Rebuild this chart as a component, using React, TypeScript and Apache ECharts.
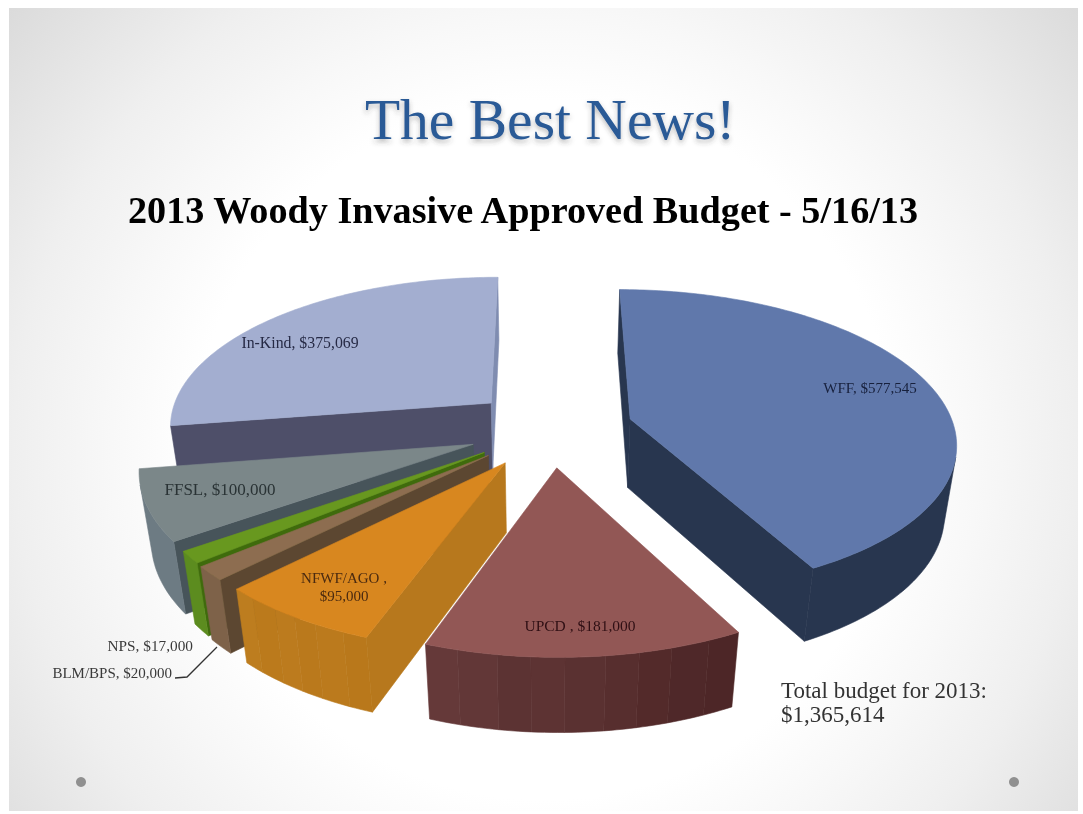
import React, { useEffect, useRef } from "react";
import * as echarts from "echarts";

const mainTitle = "The Best News!";
const chartTitle = "2013 Woody Invasive Approved Budget - 5/16/13";
const totalNote = "Total budget for 2013:\n$1,365,614";

const categories = ["WFF", "UPCD", "NFWF/AGO", "BLM/BPS", "NPS", "FFSL", "In-Kind"];
const values = [577545, 181000, 95000, 20000, 17000, 100000, 375069];
const sliceLabels = [
  "WFF, $577,545",
  "UPCD , $181,000",
  "NFWF/AGO ,\n$95,000",
  "BLM/BPS, $20,000",
  "NPS, $17,000",
  "FFSL, $100,000",
  "In-Kind, $375,069",
];

// styles and layout, by slice
const topColors = ["#6078ab", "#925755", "#d8871f", "#8d6d50", "#68981f", "#7b8789", "#a3aed0"];
const startWallColors = ["#28364f", "#5d3232", "#b7781d", "#5c4731", "#3f6b0c", "#47545a", "#4e4f69"];
const endWallColors = ["#28364f", "#5d3232", "#b7781d", "#5c4731", "#3f6b0c", "#47545a", "#7f8cb0"];
const outerBands = [
  ["#28364f"],
  ["#4d2627", "#4f2829", "#532a2a", "#572e2e", "#5a3131", "#5d3333", "#5c3333", "#623737", "#653939"],
  ["#b9781b", "#bb7a1d", "#ba791c", "#bc7b1e", "#bb7a1c", "#bd7d1f"],
  ["#7e6249"],
  ["#5c8c1f"],
  ["#6d7b83"],
  ["#4e4f69"],
];
const explodeX = [0.265, 0.035, -0.119, -0.17, -0.183, -0.218, -0.17];
const explodeZ = [0.08, -0.236, -0.205, -0.158, -0.139, -0.087, 0.19];
const labelX = [870, 580, 344, 172, 193, 220, 300];
const labelY = [388, 625, 587, 673, 645, 489, 342];
const labelSize = [15, 15.5, 15, 15, 15.3, 17, 15.8];
const labelColors = ["#17203c", "#2f0f14", "#4a2a10", "#3a3a3a", "#3a3a3a", "#2a3335", "#262a45"];
const labelAlign = ["center", "center", "center", "right", "right", "center", "center"];
const drawOrder = [6, 5, 4, 3, 2, 1, 0];

// projection of the pie's ground plane on the page
const CX = 545;
const CY = 431;
const RADIUS = 325;
const DEPTH = 151;
const PERSP = 0.142;
const THICK = 71;
const THICK_PERSP = 0.03;
const SERIF = '"Liberation Serif", serif';

const total = values.reduce((a, b) => a + b, 0);
const startAngles: number[] = [];
values.reduce((acc, v, i) => {
  startAngles[i] = (acc / total) * Math.PI * 2;
  return acc + v;
}, 0);

type P = [number, number];

function project(X: number, Z: number, H: number): P {
  const w = 1 + PERSP * Z + THICK_PERSP * H;
  return [CX + (RADIUS * X) / w, CY + (THICK * H - DEPTH * Z) / w];
}

function area2(pts: P[]): number {
  let s = 0;
  pts.forEach((p, i) => {
    const q = pts[(i + 1) % pts.length];
    s += p[0] * q[1] - q[0] * p[1];
  });
  return s;
}

function face(points: P[], fill: string) {
  return {
    type: "polygon",
    shape: { points },
    style: { fill, stroke: fill, lineWidth: 0.6 },
    silent: true,
  };
}

function renderSlice(params: any, api: any) {
  const i = drawOrder[params.dataIndex];
  const value = api.value(0) as number;
  const a0 = startAngles[i];
  const a1 = a0 + (value / total) * Math.PI * 2;
  const ox = explodeX[i];
  const oz = explodeZ[i];
  const steps = Math.max(3, Math.ceil(((a1 - a0) * 180) / Math.PI));
  const rim = (t: number, H: number) => {
    const a = a0 + (a1 - a0) * t;
    return project(ox + Math.sin(a), oz + Math.cos(a), H);
  };
  const apexT = project(ox, oz, 0);
  const apexB = project(ox, oz, 1);
  const children: any[] = [];

  const wallA: P[] = [apexT, rim(0, 0), rim(0, 1), apexB];
  if (area2(wallA) < 0) children.push(face(wallA, startWallColors[i]));
  const wallB: P[] = [rim(1, 0), apexT, apexB, rim(1, 1)];
  if (area2(wallB) < 0) children.push(face(wallB, endWallColors[i]));

  // the outer rim: one polygon for each run of visible steps in one colour band
  const bands = outerBands[i];
  let run: { from: number; to: number; band: number } | null = null;
  const flush = () => {
    if (!run) return;
    const upper: P[] = [];
    const lower: P[] = [];
    for (let s = run.from; s <= run.to; s++) {
      upper.push(rim(s / steps, 0));
      lower.unshift(rim(s / steps, 1));
    }
    children.push(face(upper.concat(lower), bands[run.band]));
    run = null;
  };
  for (let s = 0; s < steps; s++) {
    const t0 = s / steps;
    const t1 = (s + 1) / steps;
    const quad: P[] = [rim(t0, 0), rim(t1, 0), rim(t1, 1), rim(t0, 1)];
    if (area2(quad) < 0) {
      const b = Math.min(bands.length - 1, Math.floor(((t0 + t1) / 2) * bands.length));
      if (run && run.band === b && run.to === s) run.to = s + 1;
      else {
        flush();
        run = { from: s, to: s + 1, band: b };
      }
    } else flush();
  }
  flush();

  const top: P[] = [apexT];
  for (let s = 0; s <= steps; s++) top.push(rim(s / steps, 0));
  children.push(face(top, topColors[i]));

  return { type: "group", children };
}

function renderLabel(params: any) {
  const i = params.dataIndex;
  return {
    type: "text",
    x: labelX[i],
    y: labelY[i],
    silent: true,
    style: {
      text: sliceLabels[i],
      fill: labelColors[i],
      fontFamily: SERIF,
      fontSize: labelSize[i],
      lineHeight: 18,
      align: labelAlign[i],
      verticalAlign: "middle",
    },
  };
}

export default function App() {
  const ref = useRef<HTMLDivElement>(null);
  useEffect(() => {
    document.body.style.margin = "0";
    const chart = echarts.init(ref.current!, null, { renderer: "svg" });
    chart.setOption({
      animation: false,
      backgroundColor: "#ffffff",
      title: [
        {
          text: mainTitle,
          left: 360,
          top: 85,
          textStyle: {
            fontFamily: SERIF,
            fontSize: 57.5,
            fontWeight: "normal",
            color: "#2a5a96",
            textShadowColor: "rgba(60,60,60,0.35)",
            textShadowBlur: 5,
            textShadowOffsetY: 3,
          },
        },
        {
          text: chartTitle,
          left: 123,
          top: 186,
          textStyle: { fontFamily: SERIF, fontSize: 38.2, fontWeight: "bold", color: "#000000" },
        },
      ],
      graphic: [
        {
          type: "rect",
          z: -10,
          silent: true,
          shape: { x: 9, y: 8, width: 1069, height: 803 },
          style: {
            fill: {
              type: "radial",
              x: 545,
              y: 450,
              r: 700,
              global: true,
              colorStops: [
                { offset: 0, color: "#ffffff" },
                { offset: 0.5, color: "#ffffff" },
                { offset: 0.62, color: "#f8f8f8" },
                { offset: 0.76, color: "#efefef" },
                { offset: 1, color: "#dadada" },
              ],
            },
          },
        },
        { type: "circle", silent: true, shape: { cx: 81, cy: 782, r: 5 }, style: { fill: "#909090" } },
        { type: "circle", silent: true, shape: { cx: 1014, cy: 782, r: 5 }, style: { fill: "#909090" } },
        {
          type: "polyline",
          silent: true,
          shape: { points: [[175, 678], [187, 677], [217, 647]] },
          style: { stroke: "#333333", lineWidth: 1.3, fill: "none" },
        },
        {
          type: "text",
          x: 781,
          y: 702,
          silent: true,
          style: {
            text: totalNote,
            fill: "#333333",
            fontFamily: SERIF,
            fontSize: 23,
            lineHeight: 24,
            align: "left",
            verticalAlign: "middle",
          },
        },
      ],
      series: [
        {
          type: "custom",
          name: "Budget",
          coordinateSystem: "none",
          silent: true,
          z: 2,
          renderItem: renderSlice,
          data: drawOrder.map((i) => ({ name: categories[i], value: [values[i]] })),
        },
        {
          type: "custom",
          name: "Labels",
          coordinateSystem: "none",
          silent: true,
          z: 3,
          renderItem: renderLabel,
          data: categories.map((name, i) => ({ name, value: [values[i]] })),
        },
      ],
    });
    return () => chart.dispose();
  }, []);
  return <div ref={ref} style={{ width: 1083, height: 814, filter: "blur(0.4px)" }} />;
}
